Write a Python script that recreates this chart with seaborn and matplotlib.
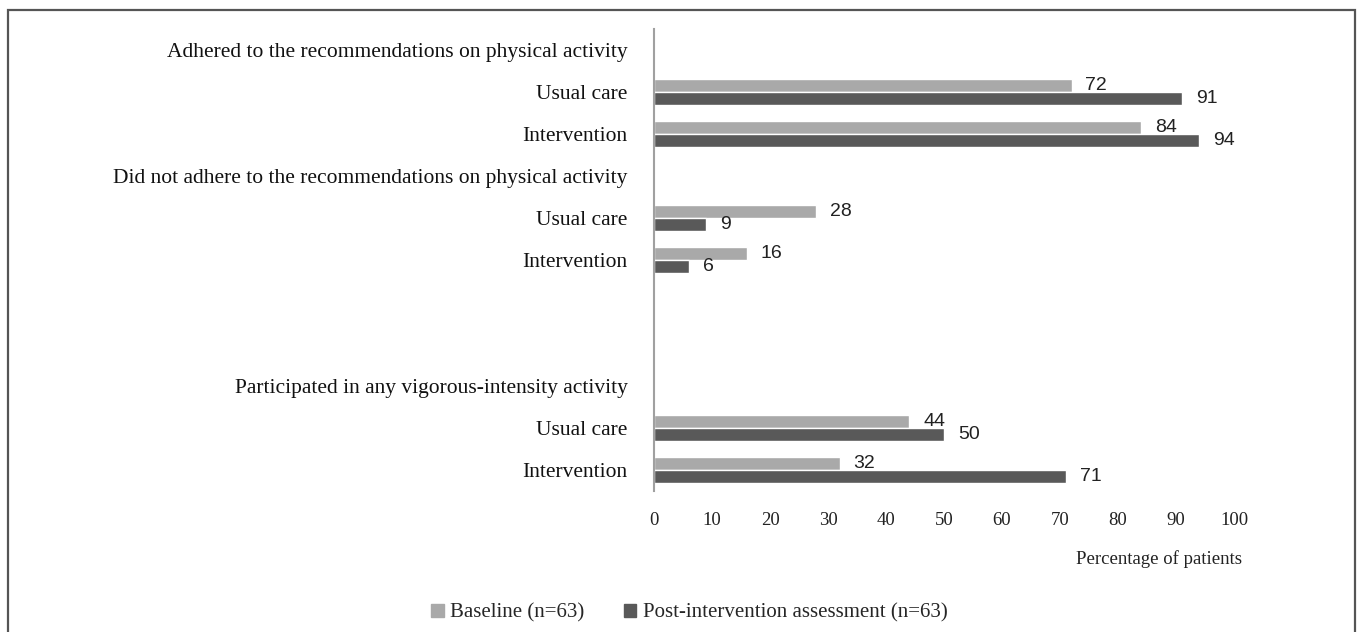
import pandas as pd
import matplotlib.pyplot as plt
import matplotlib.patches as mpatches
import matplotlib.transforms as mtransforms
import seaborn as sns

# Row layout of the chart (top to bottom), headers and blank rows have no bars
row_keys = ["h1", "uc1", "int1", "h2", "uc2", "int2", "gap1", "gap2", "h3", "uc3", "int3"]
row_labels = [
    "Adhered to the recommendations on physical activity",
    "Usual care",
    "Intervention",
    "Did not adhere to the recommendations on physical activity",
    "Usual care",
    "Intervention",
    "",
    "",
    "Participated in any vigorous-intensity activity",
    "Usual care",
    "Intervention",
]

bar_rows = ["uc1", "int1", "uc2", "int2", "uc3", "int3"]
baseline = [72, 84, 28, 16, 44, 32]
post = [91, 94, 9, 6, 50, 71]

series = ["Baseline (n=63)", "Post-intervention assessment (n=63)"]
colors = ["#a9a9a9", "#595959"]
x_ticks = [0, 10, 20, 30, 40, 50, 60, 70, 80, 90, 100]

df = pd.DataFrame({
    "row": bar_rows * 2,
    "value": baseline + post,
    "series": [series[0]] * len(bar_rows) + [series[1]] * len(bar_rows),
})

sns.set_style("white")
plt.rcParams["font.family"] = ["Liberation Serif", "DejaVu Serif"]

fig = plt.figure(figsize=(13.57, 6.32), dpi=100)
ax = fig.add_axes([654 / 1357, 1 - 491 / 632, 580 / 1357, 462 / 632])

sns.barplot(data=df, x="value", y="row", hue="series", order=row_keys,
            hue_order=series, palette=colors, orient="h", width=0.63,
            saturation=1, legend=False, ax=ax)

# value labels, nudged a little below the bar centre as in the original
shift = mtransforms.ScaledTranslation(0, -0.035, fig.dpi_scale_trans)
for cont in ax.containers:
    labels = ax.bar_label(cont, padding=10, fontsize=14, family="Liberation Sans", color="#222222")
    for t in labels:
        t.set_transform(t.get_transform() + shift)

ax.set_xlim(0, 100)
ax.set_ylim(10.5, -0.5)
ax.set_xticks(x_ticks)
ax.set_xticklabels([str(t) for t in x_ticks], fontsize=13.5, color="#222222")
ax.set_yticks(range(len(row_keys)))
ax.set_yticklabels(row_labels, fontsize=15.5, color="#111111")
ax.tick_params(axis="both", length=0)
ax.tick_params(axis="y", pad=19)
ax.tick_params(axis="x", pad=15)
ax.set_xlabel("")
ax.set_ylabel("")
for side in ["top", "right", "bottom"]:
    ax.spines[side].set_visible(False)
ax.spines["left"].set_color("#a0a0a0")
ax.spines["left"].set_linewidth(1.5)

ax.text(0.871, -0.147, "Percentage of patients", transform=ax.transAxes,
        ha="center", va="center", fontsize=13.5, color="#222222")

handles = [mpatches.Patch(color=c, label=s) for c, s in zip(colors, series)]
fig.legend(handles=handles, loc="center", bbox_to_anchor=(0.508, 1 - 613 / 632),
           ncol=2, frameon=False, fontsize=15, handlelength=0.6, handleheight=0.6,
           handletextpad=0.3, columnspacing=1.9)

# outer frame
fig.patches.append(mpatches.Rectangle((8 / 1357, -0.05), 1347 / 1357, 1.05 - 10 / 632,
                                      transform=fig.transFigure, fill=False,
                                      edgecolor="#555555", linewidth=1.6))

fig.savefig("out.png", dpi=100)
